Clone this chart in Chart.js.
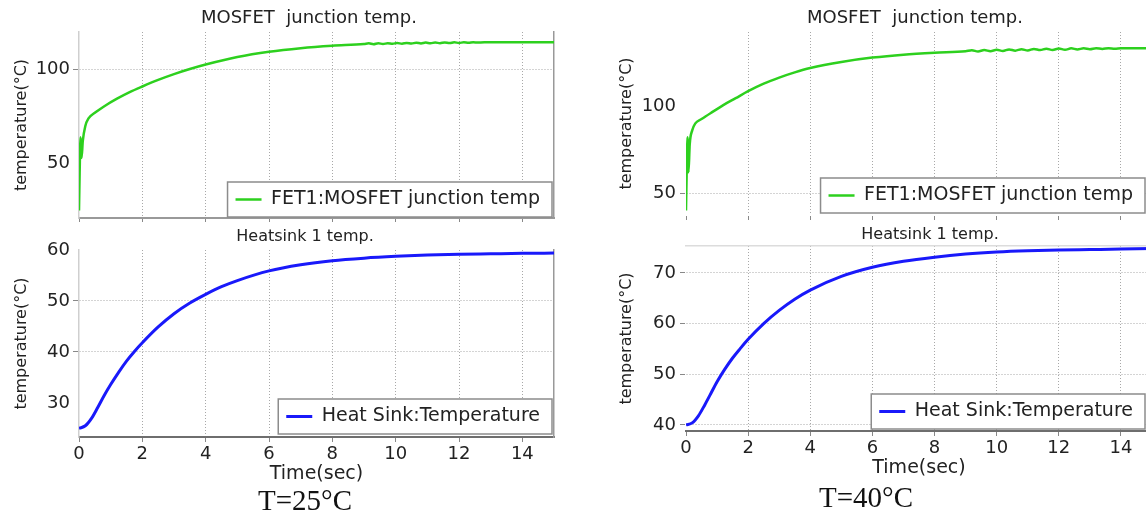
<!DOCTYPE html>
<html>
<head>
<meta charset="utf-8">
<script src="https://cdn.jsdelivr.net/npm/chart.js@4.4.1/dist/chart.umd.min.js"></script>
<style>
html, body { margin: 0; padding: 0; width: 1146px; height: 513px; overflow: hidden; background: #fff; }
canvas { position: absolute; }
.cap { position: absolute; font-family: "Liberation Serif", serif; font-size: 29px; line-height: 29px; color: #111; transform: translateX(-50%); white-space: nowrap; }
</style>
</head>
<body>
<canvas id="lt"></canvas>
<canvas id="lb"></canvas>
<canvas id="rt"></canvas>
<canvas id="rb"></canvas>
<div class="cap" style="left:305px; top:486px">T=25°C</div>
<div class="cap" style="left:866px; top:483px">T=40°C</div>
<script>
// T = 25°C : MOSFET junction (small ripple once it settles)
var fetTime25 = [0, 0.02, 0.05, 0.08, 0.12, 0.2, 0.3, 0.5, 0.8, 1.2, 1.6, 2.0, 2.5, 3.0, 3.5, 4.0, 5, 6, 7, 8,
    9.0, 9.15, 9.3, 9.45, 9.6, 9.75, 9.9, 10.05, 10.2, 10.35, 10.5, 10.65, 10.8, 10.95, 11.1, 11.25, 11.4,
    11.55, 11.7, 11.85, 12.0, 12.15, 12.3, 12.45, 12.6, 13, 14, 15];
var fetTemp25 = [25, 45, 64, 53, 62, 70, 74, 77, 80.5, 84.5, 88, 91, 94.5, 97.6, 100.3, 102.7, 106.7, 109.5, 111.4, 112.7,
    113.6, 113.95, 113.5, 114.0, 113.6, 114.05, 113.7, 114.15, 113.75, 114.2, 113.85, 114.3, 113.9, 114.35, 114.0, 114.4, 114.05,
    114.45, 114.1, 114.5, 114.2, 114.5, 114.3, 114.55, 114.4, 114.6, 114.6, 114.6];
// T = 25°C : heat sink
var sinkTime25 = [0, 0.2, 0.4, 0.6, 0.8, 1.0, 1.25, 1.5, 1.75, 2.0, 2.5, 3.0, 3.5, 4.0, 4.5, 5, 6, 7, 8, 9, 10, 11, 12, 13, 14, 15];
var sinkTemp25 = [25, 25.5, 27.0, 29.2, 31.5, 33.6, 36.0, 38.2, 40.1, 41.8, 44.9, 47.5, 49.6, 51.3, 52.8, 54.0, 55.9, 57.1, 57.9, 58.4, 58.75, 59.0, 59.15, 59.25, 59.35, 59.4];
// T = 40°C : MOSFET junction (small ripple once it settles)
var fetTime40 = [0, 0.02, 0.05, 0.08, 0.12, 0.2, 0.3, 0.5, 0.8, 1.2, 1.6, 2.0, 2.5, 3.0, 3.5, 4, 5, 6, 7, 8,
    9.0, 9.2, 9.4, 9.6, 9.8, 10.0, 10.2, 10.4, 10.6, 10.8, 11.0, 11.2, 11.4, 11.6, 11.8, 12.0, 12.2, 12.4,
    12.6, 12.8, 13.0, 13.2, 13.4, 13.6, 13.8, 14, 15];
var fetTemp40 = [40, 60, 82, 62, 78, 86, 90, 92.5, 96, 100.5, 104.5, 108.5, 112.8, 116.3, 119.3, 121.8, 125.3, 127.8, 129.5, 130.6,
    131.4, 132.0, 131.3, 132.1, 131.5, 132.3, 131.6, 132.5, 131.8, 132.6, 131.9, 132.8, 132.1, 132.9, 132.2, 133.0, 132.3, 133.1,
    132.5, 133.1, 132.6, 133.2, 132.8, 133.2, 132.9, 133.1, 133.2];
// T = 40°C : heat sink
var sinkTime40 = [0, 0.2, 0.4, 0.6, 0.8, 1.0, 1.25, 1.5, 1.75, 2.0, 2.5, 3.0, 3.5, 4, 5, 6, 7, 8, 9, 10, 11, 12, 13, 14, 15];
var sinkTemp40 = [40, 40.4, 41.8, 43.9, 46.2, 48.5, 51.0, 53.2, 55.1, 56.9, 60.0, 62.6, 64.8, 66.6, 69.3, 71.1, 72.3, 73.1, 73.7, 74.1, 74.35, 74.5, 74.6, 74.7, 74.8];

var xTicks = [0, 2, 4, 6, 8, 10, 12, 14];
var fetTicks25 = [50, 100];
var sinkTicks25 = [30, 40, 50, 60];
var fetTicks40 = [50, 100];
var sinkTicks40 = [40, 50, 60, 70];

var font = "'DejaVu Sans', Verdana, sans-serif";
var green = 'rgb(45, 208, 30)';
var blue = 'rgb(25, 25, 250)';
var gridColor = '#a8a8a8';

// legend sits in the lower right corner of the plot, in a white framed box
var legendBox = {
    id: 'legendBox',
    afterLayout: function (chart, args, opts) {
        var lg = chart.legend;
        if (!lg || !lg.legendHitBoxes || !lg.legendHitBoxes.length) return;
        var pad = lg.options.labels.padding;
        var item = lg.legendHitBoxes[0];
        var w = item.width + 2 * pad + 4;
        var h = item.height + 2 * pad;
        var a = chart.chartArea;
        var right = a.right - opts.inset[0];
        var bottom = a.bottom - opts.inset[1];
        lg.left = right - w; lg.top = bottom - h;
        lg.right = right; lg.bottom = bottom;
        lg.width = w; lg.height = h;
    },
    afterDatasetsDraw: function (chart) {
        var lg = chart.legend;
        var ctx = chart.ctx;
        ctx.save();
        ctx.fillStyle = '#fff';
        ctx.strokeStyle = '#8c8c8c';
        ctx.lineWidth = 1.5;
        ctx.fillRect(lg.left, lg.top, lg.width, lg.height);
        ctx.strokeRect(lg.left, lg.top, lg.width, lg.height);
        ctx.restore();
        lg.draw();
    }
};

function noPad(s) {
    s.paddingTop = 0; s.paddingBottom = 0; s.paddingLeft = 0; s.paddingRight = 0;
}

function makeChart(id, c) {
    var cv = document.getElementById(id);
    cv.width = c.w; cv.height = c.h;
    cv.style.left = c.left + 'px'; cv.style.top = c.top + 'px';
    cv.style.width = c.w + 'px'; cv.style.height = c.h + 'px';
    var pts = c.xs.map(function (x, i) { return { x: x, y: c.ys[i] }; });
    var hideY = c.hideY || [];
    var yGrid = function (ctx) { return hideY.indexOf(ctx.tick.value) >= 0 ? 'rgba(0,0,0,0)' : gridColor; };
    var yTick = function (ctx) { return hideY.indexOf(ctx.tick.value) >= 0 ? 'rgba(0,0,0,0)' : '#888'; };
    var scales = {
        x: {
            type: 'linear', min: 0, max: 15,
            afterBuildTicks: function (s) { s.ticks = xTicks.map(function (v) { return { value: v }; }); },
            afterFit: function (s) { s.height = c.xh; noPad(s); },
            ticks: { display: c.showX, color: '#222', padding: 2, maxRotation: 0, font: { family: font, size: 18 } },
            grid: {
                color: function (ctx) { return ctx.tick.value === 0 ? 'rgba(0,0,0,0)' : gridColor; },
                tickLength: 5, tickColor: '#888', lineWidth: 1
            },
            border: { color: c.xBorder, width: 2, dash: [1, 2] },
            title: { display: c.showX, text: 'Time(sec)', color: '#222', font: { family: font, size: 19 }, padding: { top: 0, bottom: c.xTitlePad } }
        },
        y: {
            type: 'linear', min: c.ymin, max: c.ymax,
            afterBuildTicks: function (s) { s.ticks = c.yTicks.map(function (v) { return { value: v }; }); },
            afterFit: function (s) { s.width = c.yw; noPad(s); },
            ticks: { color: '#222', padding: c.yPad, font: { family: font, size: 18 } },
            grid: { color: yGrid, tickColor: yTick, tickLength: 6, lineWidth: 1 },
            border: { color: c.yBorder, width: 1.5, dash: [1, 2] },
            title: { display: true, text: 'temperature(°C)', color: '#222', font: { family: font, size: 16 }, padding: { top: c.yTitlePad, bottom: 0 } }
        },
        y2: {
            type: 'linear', position: 'right',
            afterFit: function (s) { s.width = c.rw; noPad(s); },
            ticks: { display: false }, grid: { display: false },
            border: { color: '#999', width: 1.5 }
        }
    };
    if (c.topBorder) {
        scales.x2 = {
            type: 'linear', position: 'top',
            afterFit: function (s) { s.height = 0; noPad(s); },
            ticks: { display: false }, grid: { display: false },
            border: { color: c.topBorder, width: 1.5 }
        };
    }
    return new Chart(cv, {
        type: 'line',
        data: {
            datasets: [{
                label: c.label, data: pts,
                borderColor: c.color, backgroundColor: c.color,
                borderWidth: c.lw, pointRadius: 0, fill: false,
                cubicInterpolationMode: 'monotone'
            }]
        },
        options: {
            responsive: false, animation: false, devicePixelRatio: 1,
            layout: { padding: 0 },
            plugins: {
                title: {
                    display: true, text: c.title, color: '#222',
                    font: { family: font, size: c.titleSize, weight: 'normal' },
                    padding: { top: c.titleTop, bottom: c.titleBottom }
                },
                legend: {
                    position: 'chartArea', align: 'start',
                    labels: {
                        color: '#222', font: { family: font, size: 19 }, padding: 8,
                        usePointStyle: true, pointStyle: 'line', pointStyleWidth: 26
                    }
                },
                legendBox: { inset: c.inset },
                tooltip: { enabled: false }
            },
            scales: scales
        },
        plugins: [legendBox]
    });
}

makeChart('lt', {
    left: 0, top: 0, w: 618, h: 222, yw: 79, rw: 64, xh: 4,
    xs: fetTime25, ys: fetTemp25, ymin: 21, ymax: 120, yTicks: fetTicks25, hideY: [50],
    title: 'MOSFET  junction temp.', titleSize: 18, titleTop: 7.2, titleBottom: 3.2,
    label: 'FET1:MOSFET junction temp', color: green, lw: 2.5,
    showX: false, xTitlePad: 0, xBorder: '#999', yBorder: '#cfcfcf', yPad: 3, yTitlePad: 12.4,
    inset: [2, 1]
});
makeChart('lb', {
    left: 0, top: 222, w: 610, h: 265, yw: 79, rw: 56, xh: 50,
    xs: sinkTime25, ys: sinkTemp25, ymin: 23.3, ymax: 60, yTicks: sinkTicks25, hideY: [30, 60],
    title: 'Heatsink 1 temp.', titleSize: 16, titleTop: 5.4, titleBottom: 3.4,
    label: 'Heat Sink:Temperature', color: blue, lw: 3,
    showX: true, xTitlePad: 1.6, xBorder: '#6e6e6e', yBorder: '#cfcfcf', yPad: 3, yTitlePad: 12.4,
    inset: [2, 3]
});
makeChart('rt', {
    left: 590, top: 0, w: 650, h: 220, yw: 96, rw: 88, xh: 5,
    xs: fetTime40, ys: fetTemp40, ymin: 37.4, ymax: 142.5, yTicks: fetTicks40, hideY: [100],
    title: 'MOSFET  junction temp.', titleSize: 18, titleTop: 7.2, titleBottom: 3.2,
    label: 'FET1:MOSFET junction temp', color: green, lw: 2.5,
    showX: false, xTitlePad: 0, xBorder: 'rgba(0,0,0,0)', yBorder: 'rgba(0,0,0,0)', yPad: 4, yTitlePad: 27.4,
    inset: [7, 2]
});
makeChart('rb', {
    left: 590, top: 222, w: 680, h: 265, yw: 96, rw: 118, xh: 56,
    xs: sinkTime40, ys: sinkTemp40, ymin: 38.8, ymax: 75.3, yTicks: sinkTicks40,
    title: 'Heatsink 1 temp.', titleSize: 16, titleTop: 3.4, titleBottom: 1.4,
    label: 'Heat Sink:Temperature', color: blue, lw: 3,
    showX: true, xTitlePad: 7.6, xBorder: '#6e6e6e', yBorder: 'rgba(0,0,0,0)', yPad: 4, yTitlePad: 27.4,
    topBorder: '#dcdcdc', inset: [7, 2]
});
</script>
</body>
</html>
